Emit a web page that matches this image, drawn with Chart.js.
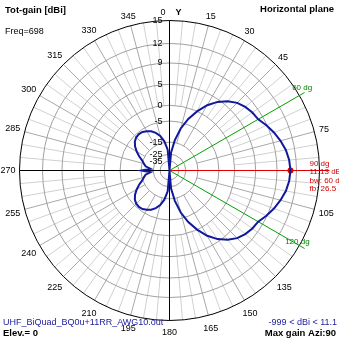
<!DOCTYPE html>
<html><head><meta charset="utf-8">
<script src="https://cdn.jsdelivr.net/npm/chart.js@4/dist/chart.umd.min.js"></script>
<style>html,body{margin:0;padding:0;background:#fff;}canvas{display:block;}</style>
</head><body>
<canvas id="c" width="339" height="339" style="width:339px;height:339px"></canvas>
<script>
// ---------- data ----------
const azimuthDeg = [0,5,10,15,20,25,30,35,40,45,50,55,60,65,70,75,80,85,
  90,95,100,105,110,115,120,125,130,135,140,145,150,155,160,165,170,175,
  180,185,190,195,200,205,210,215,220,225,230,235,240,245,250,255,260,265,
  270,275,280,285,290,295,300,305,310,315,320,325,330,335,340,345,350,355];
const totGainDbi = [
  -999,-23.0,-13.5,-7.3,-3.1,0.0,2.6,4.5,5.9,6.9,7.5,7.9,8.13,8.9,9.6,10.2,10.7,11.0,
  11.13,11.0,10.7,10.2,9.6,8.9,8.13,7.9,7.5,6.9,5.9,4.5,2.6,0.0,-3.1,-7.3,-13.5,-23.0,
  -999,-20.5,-14.2,-10.8,-8.8,-7.4,-6.6,-5.9,-5.7,-5.9,-6.6,-7.9,-9.8,-12.0,-14.6,-16.2,-17.8,-22.2,
  -15.4,-22.2,-17.8,-16.2,-14.6,-12.0,-9.8,-7.9,-6.6,-5.9,-5.7,-5.9,-6.6,-7.4,-8.8,-10.8,-14.2,-20.5];
const ringTicksDbi = [-35,-25,-15,-5,0,5,9,12,15];
const angleTickLabels = [0,15,30,45,75,105,135,150,165,180,195,210,225,240,255,270,285,300,315,330,345];
const maxGainAzimuth = 90;
const maxGainDbi = 11.13;
const beamwidthEdges = [60,120];
const infoLines = ['90 dg','11.13 dBi','bw: 60 dg','fb: 26.5 dB'];

// ---------- ARRL-style log radial scale ----------
const FONT = '"Liberation Sans", Arial, sans-serif';
const PER_DB = 0.946;
const MINOR_SPOKE_FROM_DBI = 0;
const MAJOR_SPOKE_FROM_DBI = -15;
class ArrlScale extends Chart.RadialLinearScale {
  fit() {
    this.xCenter = Math.floor(this.left + this.maxWidth / 2) + 0.5;
    this.yCenter = Math.floor(this.top + this.maxHeight / 2) + 0.5;
    this.drawingArea = Math.floor(Math.min(this.maxWidth, this.maxHeight) / 2);
  }
  getDistanceFromCenterForValue(value) {
    if (value === null || value === undefined || isNaN(value)) return NaN;
    return this.drawingArea * Math.pow(PER_DB, this.max - value);
  }
  getValueForDistanceFromCenter(d) {
    return this.max + Math.log(d / this.drawingArea) / Math.log(PER_DB);
  }
  drawGrid() {
    const ctx = this.ctx, R = this.drawingArea;
    ctx.save();
    ctx.lineWidth = 1;
    azimuthDeg.forEach((a, i) => {
      if (a % 90 === 0 || a === maxGainAzimuth || beamwidthEdges.includes(a)) return;
      const major = a % 15 === 0;
      const r0 = this.getDistanceFromCenterForValue(major ? MAJOR_SPOKE_FROM_DBI : MINOR_SPOKE_FROM_DBI);
      const p1 = this.getPointPosition(i, r0), p2 = this.getPointPosition(i, R);
      ctx.strokeStyle = major ? '#a8a8a8' : '#d0d0d0';
      ctx.beginPath(); ctx.moveTo(p1.x, p1.y); ctx.lineTo(p2.x, p2.y); ctx.stroke();
    });
    ctx.restore();
    super.drawGrid();
    ctx.save();
    ctx.lineWidth = 1;
    [[maxGainAzimuth, '#e00000', 10], [beamwidthEdges[0], '#00a000', 6], [beamwidthEdges[1], '#00a000', 6]].forEach(([a, col, ext]) => {
      const i = azimuthDeg.indexOf(a);
      const p1 = this.getPointPosition(i, R), p2 = this.getPointPosition(i, R + ext);
      ctx.strokeStyle = col;
      ctx.beginPath(); ctx.moveTo(p1.x, p1.y); ctx.lineTo(p2.x, p2.y); ctx.stroke();
    });
    ctx.restore();
  }
  drawLabels() {
    const ctx = this.ctx;
    const cx = this.xCenter, cy = this.yCenter, R = this.drawingArea;
    ctx.save();
    ctx.font = '9px ' + FONT;
    ctx.fillStyle = '#000';
    ctx.textAlign = 'right';
    ctx.textBaseline = 'middle';
    this.ticks.forEach(t => {
      const d = this.getDistanceFromCenterForValue(t.value);
      ctx.fillText(t.label, cx - 7, cy - d);
    });
    ctx.textAlign = 'center';
    azimuthDeg.forEach((a, i) => {
      if (!angleTickLabels.includes(a)) return;
      const txt = String(a);
      if (a === 0) {
        ctx.textAlign = 'right';
        ctx.fillText(txt, cx - 4, cy - R - 8);
        ctx.font = 'bold 9px ' + FONT;
        ctx.textAlign = 'left';
        ctx.fillText('Y', cx + 6, cy - R - 8);
        ctx.font = '9px ' + FONT;
        ctx.textAlign = 'center';
        return;
      }
      const ang = this.getIndexAngle(i);
      const s = Math.sin(ang), c = Math.cos(ang);
      const w = ctx.measureText(txt).width;
      const ext = Math.abs(s) * w / 2 + Math.abs(c) * 4;
      const p = this.getPointPosition(i, R + 4 + ext);
      ctx.fillText(txt, p.x, p.y + (c < 0 ? 4 * Math.abs(c) : 0));
    });
    ctx.font = '8px ' + FONT;
    ctx.fillStyle = '#008000';
    ctx.textAlign = 'left';
    beamwidthEdges.forEach(a => {
      const i = azimuthDeg.indexOf(a);
      const p = this.getPointPosition(i, R + 2);
      ctx.fillText(a + ' dg', p.x - (a < 90 ? 9 : 16), p.y + (a < 90 ? -7 : -5));
    });
    ctx.fillStyle = '#d00000';
    const im = azimuthDeg.indexOf(maxGainAzimuth);
    const pm = this.getPointPosition(im, R);
    infoLines.forEach((t, k) => ctx.fillText(t, pm.x - 10, pm.y - 7 + k * 8.5));
    ctx.restore();
  }
}
ArrlScale.id = 'arrl';
Chart.register(ArrlScale);

const textsPlugin = {
  id: 'texts',
  afterDraw(chart) {
    const ctx = chart.ctx;
    ctx.save();
    ctx.textBaseline = 'middle';
    ctx.fillStyle = '#000';
    ctx.font = 'bold 9.5px ' + FONT; ctx.textAlign = 'left';
    ctx.fillText('Tot-gain [dBi]', 5, 10);
    ctx.font = '9px ' + FONT;
    ctx.fillText('Freq=698', 5, 32);
    ctx.font = 'bold 9.5px ' + FONT; ctx.textAlign = 'right';
    ctx.fillText('Horizontal plane', 334, 9);
    ctx.textAlign = 'left';
    ctx.fillStyle = '#2020a0'; ctx.font = '9px ' + FONT;
    ctx.fillText('UHF_BiQuad_BQ0u+11RR_AWG10.out', 3, 323);
    ctx.fillStyle = '#000'; ctx.font = 'bold 9.5px ' + FONT;
    ctx.fillText('Elev.= 0', 3, 333);
    ctx.textAlign = 'right';
    ctx.fillStyle = '#2020a0'; ctx.font = '9px ' + FONT;
    ctx.fillText('-999 < dBi < 11.1', 337, 323);
    ctx.fillStyle = '#000'; ctx.font = 'bold 9.5px ' + FONT;
    ctx.fillText('Max gain Azi:90', 336, 333);
    ctx.restore();
  }
};

function angleLineColor(ctx) {
  const a = azimuthDeg[ctx.index];
  if (a === maxGainAzimuth) return '#e00000';
  if (beamwidthEdges.includes(a)) return '#00a000';
  if (a % 90 === 0) return '#000';
  return 'rgba(0,0,0,0)';
}

new Chart(document.getElementById('c'), {
  type: 'radar',
  data: {
    labels: azimuthDeg.map(String),
    datasets: [
      { data: totGainDbi, borderColor: '#10189c', borderWidth: 2, pointRadius: 0, fill: false, tension: 0 },
      { data: azimuthDeg.map(a => a === maxGainAzimuth ? maxGainDbi : null), showLine: false, pointRadius: 3,
        pointBorderWidth: 0, pointBackgroundColor: '#e00000', pointBorderColor: '#e00000', fill: false }
    ]
  },
  options: {
    responsive: false,
    animation: false,
    devicePixelRatio: 1,
    layout: { padding: { left: 19, right: 20, top: 20, bottom: 19 } },
    plugins: { legend: { display: false }, tooltip: { enabled: false } },
    scales: {
      r: {
        type: 'arrl',
        min: -40,
        max: 15,
        afterBuildTicks: (scale) => { scale.ticks = ringTicksDbi.map(v => ({ value: v })); },
        ticks: { display: true, callback: (v) => String(v), font: { size: 9 }, backdropPadding: 0 },
        pointLabels: { display: false },
        grid: { circular: true, lineWidth: 1, color: (c) => (c.tick && c.tick.value === 15) ? '#000' : '#a0a0a0' },
        angleLines: { display: true, lineWidth: 1, color: angleLineColor }
      }
    }
  },
  plugins: [textsPlugin]
});
</script>
</body></html>
